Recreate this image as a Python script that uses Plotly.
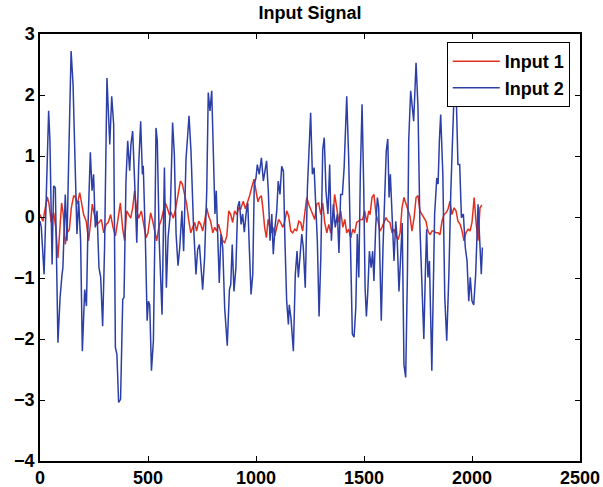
import plotly.graph_objects as go

# Input 2 (blue) — sample index and value
blue_x = [0, 6, 19, 25, 40, 46, 56, 63, 71, 83, 93, 102, 106, 117, 125, 133, 144, 153, 160, 171,
          179, 188, 196, 207, 215, 222, 233, 241, 248, 256, 264, 273, 281, 290, 299, 310, 323, 332,
          341, 349, 356, 364, 373, 383, 389, 398, 406, 415, 421, 429, 438, 448, 457, 466, 474, 478,
          488, 496, 502, 508, 516, 525, 531, 537, 543, 552, 565, 576, 585, 593, 603, 614, 622, 630,
          639, 647, 657, 665, 676, 685, 690, 699, 710, 722, 730, 738, 745, 753, 762, 772, 779, 787,
          795, 802, 810, 816, 823, 830, 838, 846, 855, 861, 867, 877, 883, 890, 898, 907, 915, 923,
          931, 938, 946, 954, 962, 969, 977, 985, 992, 1000, 1006, 1015, 1025, 1034, 1042, 1049,
          1057, 1065, 1073, 1080, 1088, 1096, 1103, 1111, 1119, 1127, 1134, 1142, 1150, 1154, 1162,
          1173, 1182, 1190, 1196, 1204, 1212, 1219, 1228, 1238, 1245, 1253, 1261, 1269, 1277, 1284,
          1292, 1300, 1309, 1316, 1324, 1333, 1341, 1349, 1358, 1367, 1377, 1384, 1392, 1400, 1408,
          1420, 1429, 1439, 1446, 1454, 1462, 1469, 1476, 1483, 1491, 1499, 1505, 1511, 1517, 1525,
          1533, 1540, 1546, 1554, 1562, 1568, 1574, 1580, 1588, 1596, 1603, 1610, 1616, 1622, 1630,
          1639, 1647, 1654, 1662, 1670, 1677, 1685, 1693, 1701, 1707, 1716, 1722, 1730, 1741, 1750,
          1759, 1766, 1777, 1784, 1790, 1796, 1803, 1814, 1821, 1827, 1837, 1843, 1849, 1855, 1865,
          1874, 1883, 1893, 1902, 1911, 1920, 1928, 1935, 1943, 1951, 1960, 1969, 1977, 1985, 1992,
          2000, 2008, 2017, 2028, 2036, 2043, 2048]
blue_y = [-0.07, -0.17, -0.94, -0.28, 1.74, 1.25, -0.78, 0.51, 0.48, -2.06, -1.32, -0.94, -0.83, 0.37,
          -0.39, 0.97, 2.72, 2.17, 1.25, -0.28, 0.26, -0.39, -2.2, -1.19, -1.46, -0.17, 1.06, 0.43,
          0.7, -0.17, 0.1, -0.83, -0.99, -1.79, -0.5, 2.28, 1.19, 1.98,
          1.52, -2.14, -2.25, -3.04, -2.99, -1.35, -1.32, 0.59, 1.25, 0.76, 1.19, 1.41, 0.59, -0.42,
          0.86, 1.57, 0.7, 0.84, -0.39, -1.7, -1.38, -1.44, -2.52, -2.03, -0.5, 1.46, 1.25, -0.39,
          -1.6, 0.81, -1.16, -0.34, 0.05, 1.55, 1.02, -0.28, -0.8, -0.5, 0.1, -0.56, 0.95, 1.46, 1.66,
          1.08, -0.07, -0.94, -0.53, -0.45, -0.88, -1.19, -0.67, 0.43, 2.04, 1.74, 2.07, 1.25, 0.05,
          0.43, -0.39, -1.08, -0.28, -0.5, -1.49, -1.92, -2.11, -1.19, -1.11, -0.45, -1.22, -0.83,
          0.16, 0.26, -0.12, 0.05, -0.25, 0.05, 0.23, -0.5, -1.27, -0.94, 0.54, 0.64, 0.86, 0.7, 0.97,
          0.59, 0.81, 0.92, 0.43, -0.39, 0.05, -0.61, -0.17, 0.1, 0.59, 0.37, 0.83, 0.75, -0.39,
          -1.38, -1.76, -1.44, -1.66, -2.2, -0.94, -0.56, -0.99, -0.64, -0.28, -0.5, -1.16, 0.48,
          1.08, 1.71, 0.7, 0.81, 0.16, -0.39, -1.63, -0.67, 1.11, 1.3, 0.43, 0.05, 0.86, -0.39, 0.21,
          -0.17, 0.05, -0.59, 0.37, 0.37, 0.81, 1.98, 0.97, -0.94, -1.92, -1.97, -1.49, -0.28, -0.99,
          0.7, 1.85, 0.43, -1.16, -1.63, -1.27, -0.56, -0.83, -0.56, -1.05, -0.17, 0.32, 0.16, -0.94,
          -1.7, -0.5, 0.37, 1.08, 1.28, 0.32, 0.7, -0.01, -0.72, -0.07, -0.39, -1.22, -0.5, -0.1,
          -2.42, -2.63, -0.94, 1.25, 2.07, 1.85, 1.57, 2.53, 1.79, -0.17, -0.94, -2.0, -0.94, -0.2,
          -0.99, -0.72, -2.52, -0.83, 0.05, 0.64, 0.54, 1.25, 1.68, 0.7, -1.32, -2.03, -0.94, 0.43,
          1.52, 2.34, 1.85, 0.86, 0.86, -0.01, 0.05, -0.5, -0.72, -1.38, -0.99, -1.38, -1.44, -0.94,
          0.21, -0.5, -0.94, -0.5]

# Input 1 (red)
red_x = [0, 6, 14, 22, 34, 42, 52, 63, 73, 83, 93, 100, 108, 117, 126, 136, 145, 156, 165, 173, 184,
         193, 202, 214, 225, 235, 242, 250, 262, 273, 284, 295, 306, 316, 327, 338, 349, 361, 372,
         383, 392, 401, 411, 420, 429, 438, 448, 457, 469, 481, 491, 500, 512, 522, 531, 540, 551,
         562, 571, 580, 589, 599, 608, 617, 626, 639, 650, 659, 668, 679, 688, 698, 707, 716, 725,
         735, 744, 753, 762, 772, 781, 790, 800, 809, 818, 827, 837, 846, 855, 865, 874, 883, 892,
         901, 911, 920, 929, 941, 951, 963, 972, 982, 991, 1000, 1009, 1017, 1025, 1033, 1040, 1048,
         1056, 1063, 1071, 1079, 1087, 1096, 1105, 1114, 1124, 1133, 1142, 1151, 1161, 1170, 1179,
         1188, 1198, 1207, 1216, 1225, 1235, 1244, 1253, 1263, 1272, 1281, 1290, 1300, 1309, 1318,
         1328, 1337, 1346, 1355, 1364, 1374, 1383, 1392, 1402, 1411, 1420, 1429, 1439, 1448, 1457,
         1466, 1476, 1485, 1494, 1503, 1513, 1522, 1528, 1537, 1546, 1556, 1565, 1574, 1583, 1593,
         1602, 1611, 1620, 1630, 1639, 1648, 1658, 1667, 1676, 1685, 1695, 1704, 1713, 1722, 1732,
         1741, 1750, 1759, 1769, 1778, 1787, 1796, 1806, 1815, 1824, 1833, 1843, 1852, 1861, 1870,
         1880, 1889, 1898, 1907, 1917, 1926, 1935, 1945, 1954, 1963, 1972, 1982, 1991, 2000, 2010,
         2019, 2028, 2037, 2046]
red_y = [0.04, -0.02, -0.07, 0.1, 0.33, 0.21, -0.09, 0.07, -0.17, -0.67, -0.17, 0.23, 0.04, -0.45,
         -0.26, -0.2, 0.15, 0.35, 0.32, 0.21, 0.4, 0.23, 0.04, -0.07, -0.39, -0.07, 0.21, 0.07, -0.12,
         -0.09, -0.04, -0.26, -0.12, -0.09, 0.04, -0.17, -0.31, -0.04, 0.23, -0.2, -0.39, 0.1, 0.04,
         -0.02, 0.15, 0.43, 0.1, -0.02, 0.1, -0.12, -0.34, -0.26, 0.07, -0.07, -0.26, -0.39, -0.15,
         -0.04, 0.1, 0.23, 0.15, 0.04, 0.07, -0.02, 0.1, 0.4, 0.59, 0.54, 0.37, 0.21, -0.04, -0.26,
         -0.17, -0.09, -0.23, -0.07, -0.12, -0.23, -0.07, 0.15, 0.01, -0.07, -0.26, -0.17, -0.23,
         -0.12, -0.26, -0.39, -0.42, -0.31, 0.1, 0.04, -0.09, 0.1, 0.04, 0.15, 0.13, 0.26, 0.13, 0.26,
         0.37, 0.51, 0.62, 0.43, 0.25, 0.32, 0.35, 0.1, -0.17, -0.34, -0.04, -0.15, -0.26, -0.17,
         -0.31, -0.17, -0.04, -0.09, -0.17, -0.07, 0.1, 0.02, -0.23, -0.26, -0.2, -0.23, -0.07, -0.09,
         -0.23, 0.04, 0.32, 0.21, 0.13, 0.02, -0.04, 0.21, 0.23, 0.04, 0.23, -0.09, -0.26, -0.12,
         -0.26, -0.09, 0.37, 0.15, -0.09, 0.1, -0.17, -0.04, -0.26, -0.2, -0.34, -0.2, -0.26, -0.09,
         -0.07, -0.04, -0.04, 0.1, -0.09, 0.1, 0.04, 0.32, 0.37, 0.04, -0.07, -0.23, -0.17, -0.07,
         -0.01, -0.07, -0.09, -0.26, -0.2, -0.31, -0.37, -0.26, 0.15, 0.32, 0.21, 0.1, 0.01, -0.23,
         -0.01, 0.32, 0.35, 0.1, 0.04, -0.02, -0.07, -0.23, -0.29, -0.23, -0.23, -0.26, -0.26, -0.29,
         -0.07, 0.04, 0.07, 0.13, 0.26, 0.04, 0.15, 0.1, -0.07, -0.12, -0.23, -0.39, -0.26, -0.2,
         -0.23, -0.09, 0.32, -0.1, -0.39, 0.15, 0.2]

x_ticks = [0, 500, 1000, 1500, 2000, 2500]
y_ticks = [-4, -3, -2, -1, 0, 1, 2, 3]

FONT = "Liberation Sans, Arial, sans-serif"

fig = go.Figure()
fig.add_trace(go.Scatter(x=red_x, y=red_y, mode="lines", name="Input 1",
                         line=dict(color="#e2301f", width=1.5)))
fig.add_trace(go.Scatter(x=blue_x, y=blue_y, mode="lines", name="Input 2",
                         line=dict(color="#2c3fa6", width=1.5)))

axis_common = dict(showgrid=False, zeroline=False, showline=True, linecolor="black",
                   linewidth=1.5, mirror="ticks", ticks="inside", ticklen=5,
                   tickcolor="black", tickwidth=1, automargin=False,
                   tickfont=dict(family=FONT, size=18, color="black", weight="bold"))

W, H = 603, 487
fig.update_layout(
    width=W, height=H,
    margin=dict(l=40, r=23, t=34, b=26, autoexpand=False),
    paper_bgcolor="white", plot_bgcolor="white",
    title=dict(text="Input Signal", x=0.5, xref="paper", y=1 - 13 / H, yref="container",
               xanchor="center", yanchor="middle",
               font=dict(family=FONT, size=18, color="black", weight="bold")),
    xaxis=dict(range=[0, 2500], tickvals=x_ticks, **axis_common),
    yaxis=dict(range=[-4, 3], tickvals=y_ticks, **axis_common),
    legend=dict(x=0.981, y=0.981, xanchor="right", yanchor="top",
                bgcolor="white", bordercolor="black", borderwidth=1,
                font=dict(family=FONT, size=18, color="black", weight="bold"),
                itemwidth=47, tracegroupgap=0),
    showlegend=True,
)

fig.write_html("out.html",
               config={"displayModeBar": False},
               post_script="document.body.style.margin='0px';"
                           "document.body.style.overflow='hidden';")
